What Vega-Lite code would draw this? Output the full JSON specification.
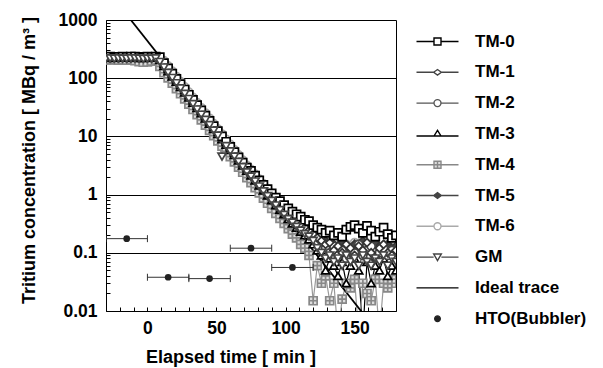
{
  "$schema": "https://vega.github.io/schema/vega-lite/v6.json",
  "autosize": {"type": "none"},
  "padding": {"left": 106, "top": 20, "right": 207, "bottom": 57},
  "width": 290,
  "height": 291,
  "config": {
    "font": "Liberation Sans",
    "view": {"stroke": "#000", "strokeWidth": 1},
    "axis": {
      "labelFont": "Liberation Sans", "labelFontSize": 17.5, "labelFontWeight": "bold", "labelColor": "#000",
      "titleFont": "Liberation Sans", "titleFontSize": 18, "titleFontWeight": "bold", "titleColor": "#000",
      "tickColor": "#000", "tickSize": -4, "domain": false, "labelOverlap": false, "labelFlush": false, "labelBound": false
    },
    "legend": {"labelFont": "Liberation Sans", "labelFontSize": 17, "labelFontWeight": "bold", "labelColor": "#000"}
  },
  "resolve": {"scale": {"shape": "independent", "fill": "independent", "stroke": "independent"}},
  "datasets": {
    "tm": [
      {"t": -30, "TM-0": 232, "TM-1": 226, "TM-2": 224, "TM-3": 230, "TM-4": 208, "TM-5": 220, "TM-6": 214, "GM": 218},
      {"t": -27, "TM-0": 234, "TM-1": 228, "TM-2": 222, "TM-3": 231, "TM-4": 206, "TM-5": 222, "TM-6": 212, "GM": 220},
      {"t": -24, "TM-0": 231, "TM-1": 227, "TM-2": 225, "TM-3": 229, "TM-4": 209, "TM-5": 219, "TM-6": 215, "GM": 217},
      {"t": -21, "TM-0": 233, "TM-1": 225, "TM-2": 223, "TM-3": 232, "TM-4": 205, "TM-5": 221, "TM-6": 213, "GM": 219},
      {"t": -18, "TM-0": 235, "TM-1": 228, "TM-2": 226, "TM-3": 230, "TM-4": 207, "TM-5": 220, "TM-6": 211, "GM": 218},
      {"t": -15, "TM-0": 232, "TM-1": 226, "TM-2": 224, "TM-3": 231, "TM-4": 204, "TM-5": 218, "TM-6": 214, "GM": 216},
      {"t": -12, "TM-0": 234, "TM-1": 227, "TM-2": 223, "TM-3": 229, "TM-4": 206, "TM-5": 221, "TM-6": 212, "GM": 219},
      {"t": -9, "TM-0": 236, "TM-1": 229, "TM-2": 225, "TM-3": 232, "TM-4": 200, "TM-5": 222, "TM-6": 210, "GM": 220},
      {"t": -6, "TM-0": 233, "TM-1": 226, "TM-2": 222, "TM-3": 230, "TM-4": 192, "TM-5": 219, "TM-6": 205, "GM": 217},
      {"t": -3, "TM-0": 231, "TM-1": 225, "TM-2": 224, "TM-3": 228, "TM-4": 188, "TM-5": 217, "TM-6": 200, "GM": 215},
      {"t": 0, "TM-0": 234, "TM-1": 227, "TM-2": 223, "TM-3": 231, "TM-4": 190, "TM-5": 220, "TM-6": 203, "GM": 218},
      {"t": 3, "TM-0": 232, "TM-1": 226, "TM-2": 225, "TM-3": 229, "TM-4": 196, "TM-5": 221, "TM-6": 208, "GM": 216},
      {"t": 6, "TM-0": 235, "TM-1": 228, "TM-2": 226, "TM-3": 233, "TM-4": 205, "TM-5": 222, "TM-6": 214, "GM": 219},
      {"t": 9, "TM-0": 230, "TM-1": 215, "TM-2": 210, "TM-3": 205, "TM-4": 160, "TM-5": 200, "TM-6": 212, "GM": 190},
      {"t": 12, "TM-0": 181, "TM-1": 172, "TM-2": 168, "TM-3": 162, "TM-4": 124, "TM-5": 162, "TM-6": 200, "GM": 153},
      {"t": 15, "TM-0": 147, "TM-1": 140, "TM-2": 136, "TM-3": 132, "TM-4": 101, "TM-5": 132, "TM-6": 163, "GM": 124},
      {"t": 18, "TM-0": 120, "TM-1": 113, "TM-2": 111, "TM-3": 107, "TM-4": 82, "TM-5": 107, "TM-6": 132, "GM": 101},
      {"t": 21, "TM-0": 97, "TM-1": 92, "TM-2": 90, "TM-3": 87, "TM-4": 66, "TM-5": 87, "TM-6": 107, "GM": 82},
      {"t": 24, "TM-0": 79, "TM-1": 75, "TM-2": 73, "TM-3": 71, "TM-4": 54, "TM-5": 71, "TM-6": 87, "GM": 67},
      {"t": 27, "TM-0": 64, "TM-1": 61, "TM-2": 59, "TM-3": 57, "TM-4": 44, "TM-5": 57, "TM-6": 71, "GM": 54},
      {"t": 30, "TM-0": 52, "TM-1": 49.5, "TM-2": 48.4, "TM-3": 46.8, "TM-4": 35.8, "TM-5": 46.8, "TM-6": 57.8, "GM": 44},
      {"t": 33, "TM-0": 42.5, "TM-1": 40.2, "TM-2": 39.3, "TM-3": 38, "TM-4": 29, "TM-5": 38, "TM-6": 46.9, "GM": 35.8},
      {"t": 36, "TM-0": 34.5, "TM-1": 32.7, "TM-2": 31.9, "TM-3": 30.9, "TM-4": 23.6, "TM-5": 30.9, "TM-6": 38.1, "GM": 29},
      {"t": 39, "TM-0": 28, "TM-1": 26.6, "TM-2": 26, "TM-3": 25.1, "TM-4": 19.2, "TM-5": 25.1, "TM-6": 31, "GM": 23.6},
      {"t": 42, "TM-0": 22.8, "TM-1": 21.6, "TM-2": 21.1, "TM-3": 20.4, "TM-4": 15.6, "TM-5": 20.4, "TM-6": 25.2, "GM": 19.2},
      {"t": 45, "TM-0": 18.5, "TM-1": 17.6, "TM-2": 17.2, "TM-3": 16.6, "TM-4": 12.7, "TM-5": 16.6, "TM-6": 20.5, "GM": 15.6},
      {"t": 48, "TM-0": 15, "TM-1": 14.2, "TM-2": 13.9, "TM-3": 13.4, "TM-4": 10.3, "TM-5": 13.4, "TM-6": 16.6, "GM": 12.6},
      {"t": 51, "TM-0": 12.3, "TM-1": 11.6, "TM-2": 11.4, "TM-3": 11, "TM-4": 8.4, "TM-5": 11, "TM-6": 13.5, "GM": 10.3},
      {"t": 54, "TM-0": 10, "TM-1": 9.45, "TM-2": 9.24, "TM-3": 8.93, "TM-4": 6.83, "TM-5": 8.93, "TM-6": 11, "GM": 4.5},
      {"t": 57, "TM-0": 8.1, "TM-1": 7.66, "TM-2": 7.49, "TM-3": 7.23, "TM-4": 5.53, "TM-5": 7.23, "TM-6": 8.94, "GM": 6.8},
      {"t": 60, "TM-0": 6.6, "TM-1": 6.23, "TM-2": 6.09, "TM-3": 5.88, "TM-4": 4.5, "TM-5": 5.88, "TM-6": 7.27, "GM": 5.54},
      {"t": 63, "TM-0": 5.35, "TM-1": 5.06, "TM-2": 4.95, "TM-3": 4.78, "TM-4": 3.65, "TM-5": 4.78, "TM-6": 5.9, "GM": 4.5},
      {"t": 66, "TM-0": 4.35, "TM-1": 4.11, "TM-2": 4.02, "TM-3": 3.88, "TM-4": 2.97, "TM-5": 3.88, "TM-6": 4.8, "GM": 3.66},
      {"t": 69, "TM-0": 3.55, "TM-1": 3.35, "TM-2": 3.27, "TM-3": 3.16, "TM-4": 2.42, "TM-5": 3.16, "TM-6": 3.9, "GM": 2.98},
      {"t": 72, "TM-0": 2.9, "TM-1": 2.72, "TM-2": 2.66, "TM-3": 2.57, "TM-4": 1.96, "TM-5": 2.57, "TM-6": 3.17, "GM": 2.42},
      {"t": 75, "TM-0": 2.55, "TM-1": 2.33, "TM-2": 2.26, "TM-3": 2.14, "TM-4": 1.61, "TM-5": 2.21, "TM-6": 2.71, "GM": 2.04},
      {"t": 78, "TM-0": 2.12, "TM-1": 1.92, "TM-2": 1.86, "TM-3": 1.76, "TM-4": 1.32, "TM-5": 1.83, "TM-6": 2.24, "GM": 1.68},
      {"t": 81, "TM-0": 1.76, "TM-1": 1.58, "TM-2": 1.53, "TM-3": 1.44, "TM-4": 1.07, "TM-5": 1.51, "TM-6": 1.84, "GM": 1.38},
      {"t": 84, "TM-0": 1.47, "TM-1": 1.31, "TM-2": 1.26, "TM-3": 1.18, "TM-4": 0.87, "TM-5": 1.25, "TM-6": 1.53, "GM": 1.14},
      {"t": 87, "TM-0": 1.24, "TM-1": 1.08, "TM-2": 1.04, "TM-3": 0.97, "TM-4": 0.71, "TM-5": 1.04, "TM-6": 1.26, "GM": 0.94},
      {"t": 90, "TM-0": 1.05, "TM-1": 0.9, "TM-2": 0.87, "TM-3": 0.8, "TM-4": 0.58, "TM-5": 0.87, "TM-6": 1.05, "GM": 0.78},
      {"t": 93, "TM-0": 0.89, "TM-1": 0.76, "TM-2": 0.72, "TM-3": 0.66, "TM-4": 0.475, "TM-5": 0.73, "TM-6": 0.88, "GM": 0.65},
      {"t": 96, "TM-0": 0.77, "TM-1": 0.64, "TM-2": 0.61, "TM-3": 0.55, "TM-4": 0.39, "TM-5": 0.62, "TM-6": 0.74, "GM": 0.54},
      {"t": 99, "TM-0": 0.66, "TM-1": 0.54, "TM-2": 0.51, "TM-3": 0.46, "TM-4": 0.32, "TM-5": 0.53, "TM-6": 0.63, "GM": 0.45},
      {"t": 102, "TM-0": 0.58, "TM-1": 0.46, "TM-2": 0.43, "TM-3": 0.38, "TM-4": 0.26, "TM-5": 0.45, "TM-6": 0.54, "GM": 0.38},
      {"t": 105, "TM-0": 0.51, "TM-1": 0.4, "TM-2": 0.37, "TM-3": 0.32, "TM-4": 0.21, "TM-5": 0.39, "TM-6": 0.46, "GM": 0.33},
      {"t": 108, "TM-0": 0.46, "TM-1": 0.35, "TM-2": 0.32, "TM-3": 0.27, "TM-4": 0.18, "TM-5": 0.34, "TM-6": 0.4, "GM": 0.28},
      {"t": 111, "TM-0": 0.42, "TM-1": 0.3, "TM-2": 0.28, "TM-3": 0.23, "TM-4": 0.14, "TM-5": 0.3, "TM-6": 0.35, "GM": 0.24},
      {"t": 114, "TM-0": 0.37, "TM-1": 0.27, "TM-2": 0.25, "TM-3": 0.2, "TM-4": 0.12, "TM-5": 0.27, "TM-6": 0.31, "GM": 0.21},
      {"t": 117, "TM-0": 0.35, "TM-1": 0.24, "TM-2": 0.22, "TM-3": 0.17, "TM-4": 0.09, "TM-5": 0.24, "TM-6": 0.28, "GM": 0.19},
      {"t": 120, "TM-0": 0.3, "TM-1": 0.21, "TM-2": 0.19, "TM-3": 0.14, "TM-4": 0.015, "TM-5": 0.17, "TM-6": 0.2, "GM": 0.16},
      {"t": 123, "TM-0": 0.27, "TM-1": 0.18, "TM-2": 0.16, "TM-3": 0.11, "TM-4": 0.06, "TM-5": 0.15, "TM-6": 0.17, "GM": 0.12},
      {"t": 126, "TM-0": 0.25, "TM-1": 0.16, "TM-2": 0.13, "TM-3": 0.09, "TM-4": 0.03, "TM-5": 0.13, "TM-6": 0.15, "GM": 0.1},
      {"t": 129, "TM-0": 0.22, "TM-1": 0.14, "TM-2": 0.12, "TM-3": 0.05, "TM-4": 0.04, "TM-5": 0.16, "TM-6": 0.16, "GM": 0.08},
      {"t": 132, "TM-0": 0.24, "TM-1": 0.15, "TM-2": 0.1, "TM-3": 0.08, "TM-4": 0.015, "TM-5": 0.12, "TM-6": 0.13, "GM": 0.09},
      {"t": 135, "TM-0": 0.2, "TM-1": 0.11, "TM-2": 0.13, "TM-3": 0.06, "TM-4": 0.03, "TM-5": 0.14, "TM-6": 0.15, "GM": 0.07},
      {"t": 138, "TM-0": 0.22, "TM-1": 0.13, "TM-2": 0.09, "TM-3": 0.04, "TM-4": 0.004, "TM-5": 0.11, "TM-6": 0.12, "GM": 0.08},
      {"t": 141, "TM-0": 0.19, "TM-1": 0.1, "TM-2": 0.11, "TM-3": 0.07, "TM-4": 0.016, "TM-5": 0.15, "TM-6": 0.16, "GM": 0.06},
      {"t": 144, "TM-0": 0.25, "TM-1": 0.14, "TM-2": 0.08, "TM-3": 0.03, "TM-4": 0.03, "TM-5": 0.13, "TM-6": 0.14, "GM": 0.09},
      {"t": 147, "TM-0": 0.28, "TM-1": 0.12, "TM-2": 0.12, "TM-3": 0.06, "TM-4": 0.025, "TM-5": 0.1, "TM-6": 0.11, "GM": 0.07},
      {"t": 150, "TM-0": 0.3, "TM-1": 0.09, "TM-2": 0.1, "TM-3": 0.08, "TM-4": 0.035, "TM-5": 0.14, "TM-6": 0.15, "GM": 0.08},
      {"t": 153, "TM-0": 0.26, "TM-1": 0.13, "TM-2": 0.14, "TM-3": 0.05, "TM-4": 0.004, "TM-5": 0.12, "TM-6": 0.13, "GM": 0.06},
      {"t": 156, "TM-0": 0.22, "TM-1": 0.11, "TM-2": 0.09, "TM-3": 0.004, "TM-4": 0.03, "TM-5": 0.16, "TM-6": 0.17, "GM": 0.09},
      {"t": 159, "TM-0": 0.29, "TM-1": 0.15, "TM-2": 0.11, "TM-3": 0.07, "TM-4": 0.02, "TM-5": 0.11, "TM-6": 0.12, "GM": 0.07},
      {"t": 162, "TM-0": 0.24, "TM-1": 0.1, "TM-2": 0.13, "TM-3": 0.03, "TM-4": 0.015, "TM-5": 0.13, "TM-6": 0.14, "GM": 0.06},
      {"t": 165, "TM-0": 0.19, "TM-1": 0.08, "TM-2": 0.08, "TM-3": 0.06, "TM-4": 0.035, "TM-5": 0.15, "TM-6": 0.16, "GM": 0.08},
      {"t": 168, "TM-0": 0.23, "TM-1": 0.12, "TM-2": 0.1, "TM-3": 0.05, "TM-4": 0.004, "TM-5": 0.1, "TM-6": 0.11, "GM": 0.07},
      {"t": 171, "TM-0": 0.27, "TM-1": 0.14, "TM-2": 0.12, "TM-3": 0.08, "TM-4": 0.03, "TM-5": 0.12, "TM-6": 0.13, "GM": 0.09},
      {"t": 174, "TM-0": 0.21, "TM-1": 0.1, "TM-2": 0.09, "TM-3": 0.04, "TM-4": 0.025, "TM-5": 0.14, "TM-6": 0.15, "GM": 0.06},
      {"t": 177, "TM-0": 0.18, "TM-1": 0.09, "TM-2": 0.11, "TM-3": 0.06, "TM-4": 0.035, "TM-5": 0.11, "TM-6": 0.12, "GM": 0.08},
      {"t": 180, "TM-0": 0.2, "TM-1": 0.11, "TM-2": 0.08, "TM-3": 0.05, "TM-4": 0.03, "TM-5": 0.13, "TM-6": 0.14, "GM": 0.07}
    ],
    "ideal": [
      {"t": -12, "c": 1000},
      {"t": 155, "c": 0.0098}
    ],
    "hto": [
      {"t": -15, "lo": -30, "hi": 0, "c": 0.175},
      {"t": 15, "lo": 0, "hi": 30, "c": 0.038},
      {"t": 45, "lo": 30, "hi": 60, "c": 0.036},
      {"t": 75, "lo": 60, "hi": 90, "c": 0.12},
      {"t": 105, "lo": 90, "hi": 120, "c": 0.056}
    ],
    "legend": [
      {"series": "TM-0"}, {"series": "TM-1"}, {"series": "TM-2"}, {"series": "TM-3"}, {"series": "TM-4"},
      {"series": "TM-5"}, {"series": "TM-6"}, {"series": "GM"}, {"series": "Ideal trace"}, {"series": "HTO(Bubbler)"}
    ]
  },
  "encoding": {
    "x": {
      "field": "t", "type": "quantitative",
      "scale": {"domain": [-30, 180], "nice": false, "zero": false},
      "axis": {
        "title": "Elapsed time [ min ]",
        "values": [-30, -20, -10, 0, 10, 20, 30, 40, 50, 60, 70, 80, 90, 100, 110, 120, 130, 140, 150, 160, 170, 180],
        "labelExpr": "datum.value % 50 === 0 ? datum.label : ''",
        "grid": false, "labelPadding": 12, "titlePadding": 12, "titleX": 124.5
      }
    },
    "y": {
      "field": "c", "type": "quantitative",
      "scale": {"type": "log", "domain": [0.01, 1000], "nice": false},
      "axis": {
        "title": "Tritium concentration [ MBq / m³ ]",
        "values": [0.01,0.02,0.03,0.04,0.05,0.06,0.07,0.08,0.09,0.1,0.2,0.3,0.4,0.5,0.6,0.7,0.8,0.9,1,2,3,4,5,6,7,8,9,10,20,30,40,50,60,70,80,90,100,200,300,400,500,600,700,800,900,1000],
        "format": "~g",
        "labelExpr": "indexof([0.01,0.1,1,10,100,1000], datum.value) >= 0 ? datum.label : ''",
        "grid": true, "gridColor": "#000", "gridWidth": 1,
        "gridOpacity": {"condition": {"test": "indexof([0.1,1,10,100], datum.value) >= 0", "value": 1}, "value": 0},
        "labelPadding": 13, "titlePadding": 20, "titleY": 140
      }
    }
  },
  "layer": [
    {
      "data": {"name": "tm"},
      "transform": [{"fold": ["TM-0", "TM-1", "TM-2", "TM-3", "TM-4", "TM-5", "TM-6", "GM"], "as": ["series", "c"]}],
      "mark": {"type": "line", "clip": true, "strokeWidth": 1.2},
      "encoding": {
        "color": {
          "field": "series", "type": "nominal", "legend": null,
          "scale": {"domain": ["TM-0", "TM-1", "TM-2", "TM-3", "TM-4", "TM-5", "TM-6", "GM"], "range": ["#000", "#555", "#666", "#000", "#999", "#555", "#bbb", "#555"]}
        }
      }
    },
    {
      "data": {"name": "ideal"},
      "mark": {"type": "line", "clip": true, "color": "#000", "strokeWidth": 1.8},
      "encoding": {}
    },
    {
      "data": {"name": "tm"},
      "transform": [{"fold": ["TM-0", "TM-1", "TM-2", "TM-3", "TM-4", "TM-5", "TM-6", "GM"], "as": ["series", "c"]}],
      "mark": {"type": "point", "clip": true, "filled": true, "size": 64, "strokeWidth": 1.7, "opacity": 1},
      "encoding": {
        "order": {"field": "series", "sort": "descending"},
        "stroke": {
          "field": "series", "type": "nominal", "legend": null,
          "scale": {"domain": ["TM-0", "TM-1", "TM-2", "TM-3", "TM-4", "TM-5", "TM-6", "GM"], "range": ["#000", "#333", "#444", "#000", "#888", "#333", "#aaa", "#444"]}
        },
        "fill": {
          "field": "series", "type": "nominal", "legend": null,
          "scale": {"domain": ["TM-0", "TM-1", "TM-2", "TM-3", "TM-4", "TM-5", "TM-6", "GM"], "range": ["#fff", "#fff", "#fff", "#fff", "#ddd", "#444", "#fff", "#fff"]}
        },
        "shape": {
          "field": "series", "type": "nominal", "legend": null,
          "scale": {
            "domain": ["TM-0", "TM-1", "TM-2", "TM-3", "TM-4", "TM-5", "TM-6", "GM"],
            "range": ["square", "diamond", "circle", "triangle-up", "M-1,-1H1V1H-1ZM0,-1V1M-1,0H1", "diamond", "circle", "triangle-down"]
          }
        }
      }
    },
    {
      "data": {"name": "hto"},
      "mark": {"type": "rule", "clip": true, "color": "#333", "strokeWidth": 1},
      "encoding": {"x": {"field": "lo", "type": "quantitative"}, "x2": {"field": "hi"}}
    },
    {
      "data": {"name": "hto"},
      "mark": {"type": "point", "clip": true, "shape": "stroke", "angle": 90, "size": 49, "color": "#333", "strokeWidth": 1, "opacity": 1},
      "encoding": {"x": {"field": "lo", "type": "quantitative"}}
    },
    {
      "data": {"name": "hto"},
      "mark": {"type": "point", "clip": true, "shape": "stroke", "angle": 90, "size": 49, "color": "#333", "strokeWidth": 1, "opacity": 1},
      "encoding": {"x": {"field": "hi", "type": "quantitative"}}
    },
    {
      "data": {"name": "hto"},
      "mark": {"type": "point", "clip": true, "shape": "circle", "filled": true, "size": 45, "color": "#222", "opacity": 1},
      "encoding": {}
    },
    {
      "data": {"name": "legend"},
      "mark": {"type": "point", "filled": true, "opacity": 0},
      "encoding": {
        "shape": {
          "field": "series", "type": "nominal",
          "scale": {
            "domain": ["TM-0", "TM-1", "TM-2", "TM-3", "TM-4", "TM-5", "TM-6", "GM", "Ideal trace", "HTO(Bubbler)"],
            "range": [
              "M-3,0H-0.5M0.5,0H3M-0.5,-0.5H0.5V0.5H-0.5Z",
              "M-3,0H-0.55M0.55,0H3M-0.55,0L0,-0.4L0.55,0L0,0.4Z",
              "M-3,0H-0.5M0.5,0H3M-0.5,0A0.5,0.5 0 1,0 0.5,0A0.5,0.5 0 1,0 -0.5,0Z",
              "M-3,0.3H-0.5M0.5,0.3H3M-0.5,0.3L0,-0.5L0.5,0.3Z",
              "M-3,0H-0.5M0.5,0H3M-0.5,-0.5H0.5V0.5H-0.5ZM0,-0.5V0.5M-0.5,0H0.5",
              "M-3,0H-0.55M0.55,0H3M-0.55,0L0,-0.4L0.55,0L0,0.4Z",
              "M-3,0H-0.5M0.5,0H3M-0.5,0A0.5,0.5 0 1,0 0.5,0A0.5,0.5 0 1,0 -0.5,0Z",
              "M-3,0H-0.55M0.55,0H3M-0.55,-0.45H0.55L0,0.5Z",
              "M-3,0H3",
              "M-0.4,0A0.4,0.4 0 1,0 0.4,0A0.4,0.4 0 1,0 -0.4,0Z"
            ]
          },
          "legend": {
            "title": null, "orient": "none", "legendX": 323, "legendY": 13, "padding": 0, "offset": 0,
            "symbolSize": 196, "symbolStrokeWidth": 1.4, "symbolOpacity": 1, "labelOffset": 29, "rowPadding": 12.8, "labelLimit": 300
          }
        },
        "fill": {
          "field": "series", "type": "nominal",
          "scale": {
            "domain": ["TM-0", "TM-1", "TM-2", "TM-3", "TM-4", "TM-5", "TM-6", "GM", "Ideal trace", "HTO(Bubbler)"],
            "range": ["#fff", "#fff", "#fff", "#fff", "#ddd", "#444", "#fff", "#fff", "#fff", "#222"]
          }
        },
        "stroke": {
          "field": "series", "type": "nominal",
          "scale": {
            "domain": ["TM-0", "TM-1", "TM-2", "TM-3", "TM-4", "TM-5", "TM-6", "GM", "Ideal trace", "HTO(Bubbler)"],
            "range": ["#000", "#444", "#555", "#000", "#888", "#444", "#aaa", "#444", "#000", "#222"]
          }
        }
      }
    }
  ]
}
